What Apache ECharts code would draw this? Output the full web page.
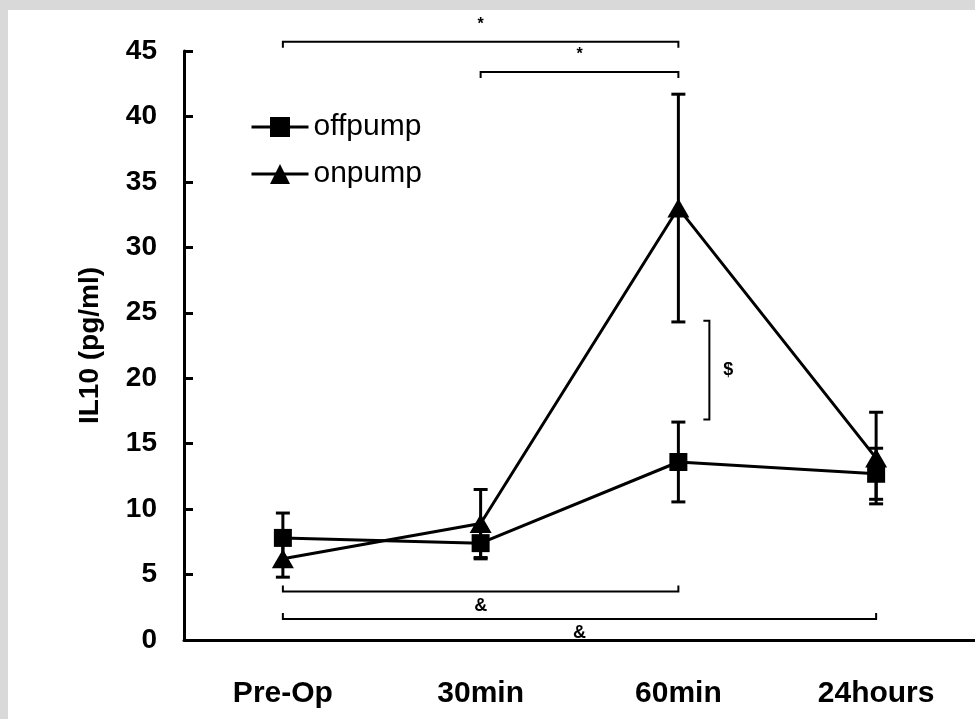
<!DOCTYPE html>
<html>
<head>
<meta charset="utf-8">
<script src="https://cdn.jsdelivr.net/npm/echarts@6/dist/echarts.min.js"></script>
<style>
html,body{margin:0;padding:0;background:#d9d9d9;width:975px;height:719px;overflow:hidden;}
#chart{position:absolute;left:8px;top:10px;width:967px;height:709px;background:#fff;}
</style>
</head>
<body>
<div id="chart"></div>
<script>
var categories = ['Pre-Op', '30min', '60min', '24hours'];
var yTicks = [0, 45, 5];
var offpumpMean = [7.8, 7.4, 13.6, 12.7];
var offpumpSD = [1.9, 1.2, 3.05, 1.95];
var onpumpMean = [6.2, 8.9, 33.0, 13.9];
var onpumpSD = [1.4, 2.6, 8.7, 3.5];
// significance brackets: [fromCategory, toCategory, yValue, direction(+1 ticks down, -1 ticks up)]
var bracketSpans = [[0, 2, 45.7, 1], [1, 2, 43.4, 1], [0, 2, 3.7, -1], [0, 3, 1.6, -1]];
var bracketLabels = ['*', '*', '&', '&'];
// vertical bracket between groups at 60min: [category, low, high]
var dollarBracket = [[2, 16.85, 24.4]];
var dollarLabel = ['$'];

var FONT = 'Arial, "Liberation Sans", sans-serif';

function errData(mean, sd) {
  return mean.map(function (m, i) { return [i, m - sd[i], m + sd[i]]; });
}
function errRender(params, api) {
  var x = api.value(0);
  var lo = api.coord([x, api.value(1)]);
  var hi = api.coord([x, api.value(2)]);
  var w = 7;
  var st = { stroke: '#000', lineWidth: 3 };
  return {
    type: 'group',
    children: [
      { type: 'line', shape: { x1: lo[0], y1: lo[1], x2: hi[0], y2: hi[1] }, style: st },
      { type: 'line', shape: { x1: lo[0] - w, y1: lo[1], x2: lo[0] + w, y2: lo[1] }, style: st },
      { type: 'line', shape: { x1: hi[0] - w, y1: hi[1], x2: hi[0] + w, y2: hi[1] }, style: st }
    ]
  };
}

var chart = echarts.init(document.getElementById('chart'), null, { renderer: 'canvas' });
var option = {
  animation: false,
  backgroundColor: '#fff',
  grid: { left: 176, top: 41, width: 795, height: 589 },
  legend: {
    data: ['offpump', 'onpump'],
    orient: 'vertical',
    left: 237,
    top: 97,
    itemWidth: 57,
    itemHeight: 25,
    itemGap: 17,
    lineStyle: { width: 3, color: '#000' },
    textStyle: { fontFamily: FONT, fontSize: 30, color: '#000', lineHeight: 25, height: 25 }
  },
  xAxis: {
    type: 'category',
    data: categories,
    boundaryGap: true,
    axisLine: { show: true, lineStyle: { color: '#000', width: 3 } },
    axisTick: { show: false },
    axisLabel: { color: '#000', fontFamily: FONT, fontWeight: 'bold', fontSize: 30, margin: 39 }
  },
  yAxis: {
    type: 'value',
    min: yTicks[0], max: yTicks[1], interval: yTicks[2],
    name: 'IL10 (pg/ml)',
    nameLocation: 'middle',
    nameRotate: 90,
    nameGap: 80,
    nameTextStyle: { color: '#000', fontFamily: FONT, fontWeight: 'bold', fontSize: 28 },
    splitLine: { show: false },
    axisLine: { show: true, lineStyle: { color: '#000', width: 3 } },
    axisTick: { show: true, inside: true, length: 9, lineStyle: { color: '#000', width: 3 } },
    axisLabel: { color: '#000', fontFamily: FONT, fontWeight: 'bold', fontSize: 28, margin: 27 }
  },
  series: [
    {
      name: 'offpump-err', type: 'custom', renderItem: errRender,
      data: errData(offpumpMean, offpumpSD), encode: { x: 0, y: [1, 2] }, z: 1, silent: true
    },
    {
      name: 'onpump-err', type: 'custom', renderItem: errRender,
      data: errData(onpumpMean, onpumpSD), encode: { x: 0, y: [1, 2] }, z: 1, silent: true
    },
    {
      name: 'offpump', type: 'line', data: offpumpMean,
      symbol: 'rect', symbolSize: 18,
      lineStyle: { color: '#000', width: 3 },
      itemStyle: { color: '#000' }, z: 3
    },
    {
      name: 'onpump', type: 'line', data: onpumpMean,
      symbol: 'triangle', symbolSize: [22, 19],
      lineStyle: { color: '#000', width: 3 },
      itemStyle: { color: '#000' }, z: 4
    },
    {
      name: 'brackets', type: 'custom', clip: false, silent: true, z: 2,
      data: bracketSpans,
      encode: { x: [0, 1], y: 2 },
      renderItem: function (params, api) {
        var a = api.coord([api.value(0), api.value(2)]);
        var b = api.coord([api.value(1), api.value(2)]);
        var dir = api.value(3);
        var t = 6 * dir;
        var label = bracketLabels[params.dataIndex];
        var isStar = label === '*';
        return {
          type: 'group',
          children: [
            { type: 'polyline', shape: { points: [[a[0], a[1] + t], [a[0], a[1]], [b[0], b[1]], [b[0], b[1] + t]] }, style: { stroke: '#000', lineWidth: 2, fill: null } },
            {
              type: 'text',
              style: {
                text: label, x: (a[0] + b[0]) / 2, y: a[1] + (isStar ? -17 : 14),
                align: 'center', verticalAlign: 'middle',
                font: (isStar ? 'bold 16px ' : 'bold 18px ') + FONT, fill: '#000'
              }
            }
          ]
        };
      }
    },
    {
      name: 'dollar', type: 'custom', clip: false, silent: true, z: 2,
      data: dollarBracket,
      encode: { x: 0, y: [1, 2] },
      renderItem: function (params, api) {
        var lo = api.coord([api.value(0), api.value(1)]);
        var hi = api.coord([api.value(0), api.value(2)]);
        var x = lo[0] + 31;
        return {
          type: 'group',
          children: [
            { type: 'polyline', shape: { points: [[x - 6, hi[1]], [x, hi[1]], [x, lo[1]], [x - 6, lo[1]]] }, style: { stroke: '#000', lineWidth: 2, fill: null } },
            {
              type: 'text',
              style: {
                text: dollarLabel[params.dataIndex], x: x + 19, y: (lo[1] + hi[1]) / 2,
                align: 'center', verticalAlign: 'middle',
                font: 'bold 18px ' + FONT, fill: '#000'
              }
            }
          ]
        };
      }
    }
  ]
};
chart.setOption(option);
</script>
</body>
</html>
